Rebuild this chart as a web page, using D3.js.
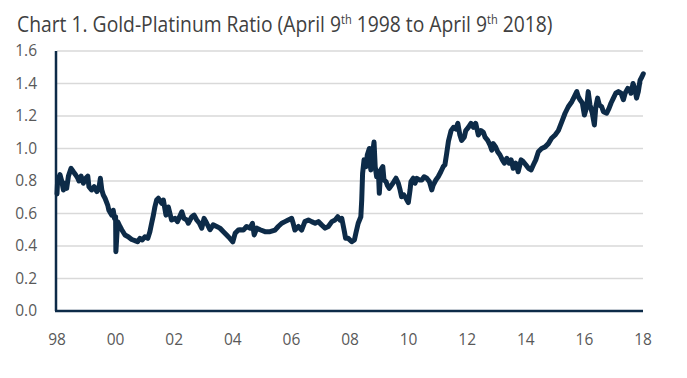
<!DOCTYPE html>
<html>
<head>
<meta charset="utf-8">
<script src="https://cdn.jsdelivr.net/npm/d3@7"></script>
<style>
  body { margin: 0; background: #ffffff; }
  svg { display: block; }
</style>
</head>
<body>
<svg id="chart-svg"></svg>
<script>
// data (x = year, April 1998 = 1998.00)
const years = [
  1998.00, 1998.02, 1998.10, 1998.16, 1998.22, 1998.25, 1998.33, 1998.39, 1998.48, 1998.56,
  1998.64, 1998.71, 1998.75, 1998.82, 1998.90, 1998.98, 1999.05, 1999.09, 1999.18, 1999.27,
  1999.36, 1999.43, 1999.48, 1999.53, 1999.58, 1999.64, 1999.73, 1999.77, 1999.87, 1999.92,
  1999.96, 2000.00, 2000.01, 2000.07, 2000.15, 2000.21, 2000.32, 2000.43, 2000.55, 2000.66,
  2000.75, 2000.83, 2000.91, 2001.00, 2001.10, 2001.17, 2001.23, 2001.29, 2001.34, 2001.40,
  2001.46, 2001.57, 2001.63, 2001.72, 2001.80, 2001.91, 2002.03, 2002.11, 2002.26, 2002.33,
  2002.43, 2002.48, 2002.60, 2002.68, 2002.77, 2002.86, 2002.94, 2003.02, 2003.11, 2003.22,
  2003.33, 2003.45, 2003.56, 2003.68, 2003.79, 2003.90, 2004.00, 2004.08, 2004.19, 2004.25,
  2004.36, 2004.47, 2004.59, 2004.67, 2004.73, 2004.82, 2004.93, 2005.10, 2005.27, 2005.44,
  2005.55, 2005.67, 2005.78, 2005.89, 2006.01, 2006.06, 2006.12, 2006.24, 2006.35, 2006.46,
  2006.58, 2006.69, 2006.81, 2006.92, 2007.03, 2007.15, 2007.26, 2007.38, 2007.49, 2007.58,
  2007.66, 2007.72, 2007.81, 2007.85, 2007.94, 2008.06, 2008.15, 2008.20, 2008.28, 2008.37,
  2008.40, 2008.43, 2008.48, 2008.55, 2008.59, 2008.66, 2008.71, 2008.77, 2008.82, 2008.86,
  2008.91, 2008.97, 2009.00, 2009.05, 2009.12, 2009.16, 2009.23, 2009.27, 2009.34, 2009.42,
  2009.50, 2009.57, 2009.65, 2009.71, 2009.76, 2009.84, 2009.91, 2009.99, 2010.05, 2010.08,
  2010.16, 2010.22, 2010.28, 2010.37, 2010.45, 2010.53, 2010.62, 2010.71, 2010.79, 2010.84,
  2010.93, 2011.01, 2011.10, 2011.18, 2011.24, 2011.30, 2011.36, 2011.45, 2011.53, 2011.61,
  2011.68, 2011.75, 2011.81, 2011.90, 2011.95, 2012.04, 2012.13, 2012.21, 2012.29, 2012.38,
  2012.47, 2012.55, 2012.61, 2012.70, 2012.78, 2012.84, 2012.89, 2012.97, 2013.04, 2013.12,
  2013.20, 2013.27, 2013.35, 2013.43, 2013.50, 2013.57, 2013.66, 2013.74, 2013.84, 2013.91,
  2014.00, 2014.09, 2014.18, 2014.26, 2014.34, 2014.43, 2014.54, 2014.66, 2014.77, 2014.88,
  2015.00, 2015.11, 2015.23, 2015.34, 2015.45, 2015.57, 2015.66, 2015.74, 2015.79, 2015.85,
  2015.93, 2016.00, 2016.08, 2016.13, 2016.19, 2016.27, 2016.34, 2016.39, 2016.45, 2016.51,
  2016.59, 2016.65, 2016.76, 2016.84, 2016.91, 2016.99, 2017.07, 2017.16, 2017.25, 2017.33,
  2017.39, 2017.48, 2017.56, 2017.59, 2017.66, 2017.72, 2017.78, 2017.84, 2017.90, 2017.96,
  2018.01
];
const ratio = [
  0.720, 0.800, 0.840, 0.800, 0.745, 0.786, 0.755, 0.830, 0.878, 0.857,
  0.837, 0.817, 0.800, 0.830, 0.786, 0.817, 0.830, 0.765, 0.745, 0.765,
  0.735, 0.755, 0.817, 0.745, 0.714, 0.694, 0.652, 0.620, 0.590, 0.620,
  0.570, 0.580, 0.365, 0.550, 0.520, 0.500, 0.468, 0.457, 0.440, 0.433,
  0.426, 0.447, 0.437, 0.457, 0.447, 0.488, 0.540, 0.590, 0.640, 0.683,
  0.694, 0.663, 0.683, 0.590, 0.640, 0.560, 0.570, 0.550, 0.610, 0.570,
  0.560, 0.540, 0.580, 0.590, 0.560, 0.540, 0.510, 0.570, 0.540, 0.500,
  0.530, 0.520, 0.510, 0.488, 0.468, 0.447, 0.426, 0.478, 0.498, 0.500,
  0.498, 0.520, 0.510, 0.540, 0.468, 0.510, 0.500, 0.488, 0.488, 0.498,
  0.520, 0.540, 0.550, 0.560, 0.570, 0.540, 0.498, 0.520, 0.498, 0.550,
  0.560, 0.550, 0.540, 0.550, 0.530, 0.510, 0.520, 0.550, 0.560, 0.580,
  0.560, 0.570, 0.488, 0.447, 0.447, 0.426, 0.437, 0.478, 0.540, 0.580,
  0.683, 0.847, 0.930, 0.888, 0.960, 1.000, 0.868, 0.970, 1.040, 0.888,
  0.826, 0.857, 0.724, 0.868, 0.888, 0.806, 0.796, 0.775, 0.755, 0.775,
  0.796, 0.817, 0.786, 0.745, 0.703, 0.714, 0.694, 0.667, 0.745, 0.796,
  0.817, 0.786, 0.817, 0.806, 0.806, 0.826, 0.817, 0.796, 0.745, 0.775,
  0.806, 0.826, 0.857, 0.888, 0.900, 0.970, 1.045, 1.110, 1.130, 1.120,
  1.155, 1.083, 1.050, 1.070, 1.110, 1.130, 1.155, 1.130, 1.155, 1.083,
  1.110, 1.100, 1.070, 1.050, 1.020, 0.990, 1.030, 1.010, 0.980, 0.960,
  0.930, 0.910, 0.940, 0.910, 0.930, 0.878, 0.910, 0.857, 0.930, 0.920,
  0.900, 0.878, 0.868, 0.900, 0.930, 0.980, 1.000, 1.010, 1.030, 1.063,
  1.083, 1.110, 1.165, 1.217, 1.257, 1.288, 1.320, 1.350, 1.320, 1.300,
  1.280, 1.206, 1.257, 1.350, 1.268, 1.217, 1.145, 1.257, 1.310, 1.268,
  1.257, 1.226, 1.217, 1.247, 1.280, 1.310, 1.340, 1.350, 1.340, 1.300,
  1.340, 1.370, 1.360, 1.340, 1.400, 1.370, 1.310, 1.350, 1.420, 1.440,
  1.460
];
const tickYears = [1998, 2000, 2002, 2004, 2006, 2008, 2010, 2012, 2014, 2016, 2018];
const tickLabels = ['98', '00', '02', '04', '06', '08', '10', '12', '14', '16', '18'];
const yTicks = [0.0, 0.2, 0.4, 0.6, 0.8, 1.0, 1.2, 1.4, 1.6];

const width = 687;
const height = 378;
const navy = '#0d2b48';
const fontFam = "'Open Sans', 'Noto Sans', sans-serif";

const svg = d3.select('#chart-svg')
    .attr('width', width)
    .attr('height', height);

//set up scales
const xScale = d3.scaleLinear()
    .domain([1998, 2018])
    .range([57, 643]);
const yScale = d3.scaleLinear()
    .domain([0, 1.6])
    .range([311, 51]);

//title, squeezed to the width of the original narrow font
const title = svg.append('text')
    .attr('x', 0)
    .attr('y', 0)
    .attr('font-family', fontFam)
    .attr('font-size', '21px')
    .attr('fill', '#404040');
const parts = [
    ['Chart 1. Gold-Platinum Ratio (April 9', false],
    ['th', true],
    [' 1998 to April 9', false],
    ['th', true],
    [' 2018)', false]
];
title.selectAll('tspan')
    .data(parts)
    .enter()
    .append('tspan')
    .text(function (d) { return d[0]; })
    .attr('font-size', function (d) { return d[1] ? '12px' : '21px'; })
    // superscript goes up, next piece comes back to the baseline
    .attr('dy', function (d, i) {
        if (d[1]) return -8;
        if (i > 0 && parts[i - 1][1]) return 8;
        return 0;
    });
const tw = title.node().getComputedTextLength();
title.attr('transform', 'translate(17,32) scale(' + (536 / tw) + ',1)');

//gridlines
svg.append('g')
    .selectAll('line')
    .data(yTicks.filter(function (d) { return d > 0; }))
    .enter()
    .append('line')
    .attr('x1', xScale(1998))
    .attr('x2', xScale(2018))
    .attr('y1', function (d) { return yScale(d); })
    .attr('y2', function (d) { return yScale(d); })
    .attr('stroke', '#d9d9d9')
    .attr('stroke-width', 1.5);

//y axis labels
svg.append('g')
    .attr('id', 'y-axis')
    .selectAll('text')
    .data(yTicks)
    .enter()
    .append('text')
    .attr('x', 37)
    .attr('y', function (d) { return yScale(d); })
    .attr('dy', '0.35em')
    .attr('text-anchor', 'end')
    .attr('font-family', fontFam)
    .attr('font-size', '15.5px')
    .attr('fill', '#595959')
    .text(function (d) { return d.toFixed(1); });

//x axis labels
svg.append('g')
    .attr('id', 'x-axis')
    .selectAll('text')
    .data(tickYears)
    .enter()
    .append('text')
    .attr('x', function (d) { return xScale(d); })
    .attr('y', 340)
    .attr('dy', '0.35em')
    .attr('text-anchor', 'middle')
    .attr('font-family', fontFam)
    .attr('font-size', '15.5px')
    .attr('fill', '#595959')
    .text(function (d, i) { return tickLabels[i]; });

// create the line for the data
const line = d3.line()
    .x(function (d, i) { return xScale(years[i]); })
    .y(function (d) { return yScale(d); });

svg.append('path')
    .datum(ratio)
    .attr('fill', 'none')
    .attr('stroke', navy)
    .attr('stroke-width', 5)
    .attr('stroke-linejoin', 'round')
    .attr('stroke-linecap', 'round')
    .attr('d', line);

//axis lines
svg.append('line')
    .attr('x1', xScale(1998) - 1)
    .attr('x2', xScale(1998) - 1)
    .attr('y1', yScale(1.6))
    .attr('y2', yScale(0))
    .attr('stroke', navy)
    .attr('stroke-width', 2.5);
svg.append('line')
    .attr('x1', xScale(1998) - 2)
    .attr('x2', xScale(2018))
    .attr('y1', yScale(0))
    .attr('y2', yScale(0))
    .attr('stroke', navy)
    .attr('stroke-width', 2.5);
</script>
</body>
</html>
